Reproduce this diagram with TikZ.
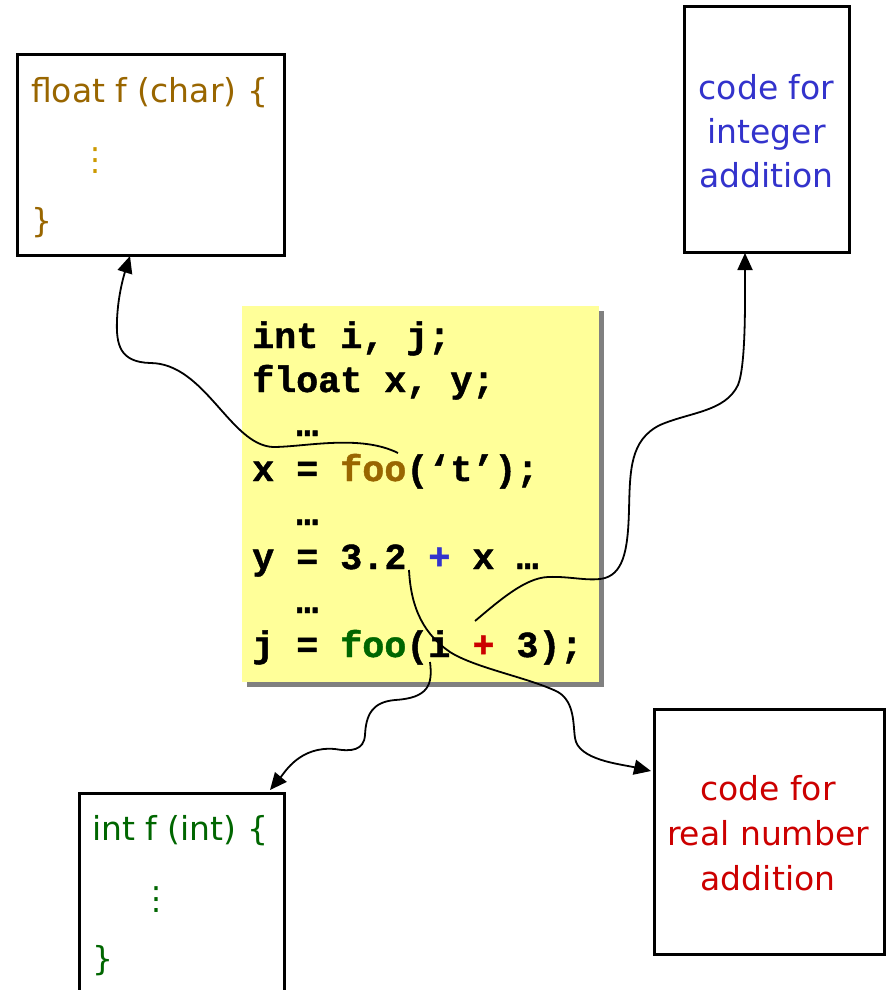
\documentclass[tikz,border=0pt]{standalone}
\usepackage{fontspec}
\usetikzlibrary{arrows.meta}
\newfontfamily\sansfnt{DejaVu Sans}
\newfontfamily\codefnt{Liberation Mono}[BoldFeatures={FakeBold=1.2}]
\definecolor{cbrown}{HTML}{996600}
\definecolor{cgold}{HTML}{CC9900}
\definecolor{cblue}{HTML}{3333CC}
\definecolor{cred}{HTML}{CC0000}
\definecolor{cgreen}{HTML}{006600}
\definecolor{cyellow}{HTML}{FFFF99}
\definecolor{cshadow}{HTML}{808080}
\tikzset{
  boxstyle/.style={draw=black, line width=3pt, fill=white, inner sep=0pt},
  sanstxt/.style={font=\sansfnt\fontsize{33}{44}\selectfont, inner sep=0pt},
  dotstxt/.style={font=\sansfnt\fontsize{32}{32}\selectfont, inner sep=0pt},
  codetxt/.style={font=\codefnt\bfseries\fontsize{36.7}{44}\selectfont, anchor=base west, inner sep=0pt},
  conn/.style={line width=1.8pt, -{Triangle[length=17pt,width=15pt]}},
}
\begin{document}
\begin{tikzpicture}[x=1pt,y=-1pt]
\clip (0,0) rectangle (887,990);
\fill[white] (0,0) rectangle (887,990);
% boxes
\node[boxstyle, minimum width=267pt, minimum height=200pt] (tl) at (150.5,155) {};
\node[boxstyle, minimum width=165pt, minimum height=245pt] (tr) at (766.5,129.5) {};
\node[boxstyle, minimum width=205pt, minimum height=230pt] (bl) at (181.5,908) {};
\node[boxstyle, minimum width=230pt, minimum height=245pt] (br) at (769,831.5) {};
% code box with shadow
\node[fill=cshadow, minimum width=357pt, minimum height=376pt, inner sep=0pt] (shadow) at (425.5,499) {};
\node[fill=cyellow, minimum width=357pt, minimum height=376pt, inner sep=0pt] (code) at (420.5,494) {};
% top-left text
\node[sanstxt, anchor=base west, text=cbrown] (tl1) at (31,102) {float f (char) \{};
\node[dotstxt, text=cgold] (tl2) at (95,161) {⋮};
\node[sanstxt, anchor=base west, text=cbrown] (tl3) at (31,232) {\}};
% top-right text
\node[sanstxt, anchor=base, text=cblue] (tr1) at (766.5,99) {code for};
\node[sanstxt, anchor=base, text=cblue] (tr2) at (766.5,143) {integer};
\node[sanstxt, anchor=base, text=cblue] (tr3) at (766.5,187) {addition};
% bottom-right text
\node[sanstxt, anchor=base, text=cred] (br1) at (768,800) {code for};
\node[sanstxt, anchor=base, text=cred] (br2) at (768,845) {real number};
\node[sanstxt, anchor=base, text=cred] (br3) at (768,890) {addition};
% bottom-left text
\node[sanstxt, anchor=base west, text=cgreen] (bl1) at (92,840) {int f (int) \{};
\node[dotstxt, text=cgreen] (bl2) at (156,900) {⋮};
\node[sanstxt, anchor=base west, text=cgreen] (bl3) at (92,970) {\}};
% code lines
\node[codetxt] (c1) at (252,348) {int i, j;};
\node[codetxt] (c2) at (252,392) {float x, y;};
\node[codetxt] (c3) at (252,436) {~~…};
\node[codetxt] (c4) at (252,481) {x = \textcolor{cbrown}{foo}(‘t’);};
\node[codetxt] (c5) at (252,525) {~~…};
\node[codetxt] (c6) at (252,569) {y = 3.2 \textcolor{cblue}{+} x …};
\node[codetxt] (c7) at (252,613) {~~…};
\node[codetxt] (c8) at (252,657) {j = \textcolor{cgreen}{foo}(i \textcolor{cred}{+} 3);};
% connector end points
\coordinate (s1) at (398,453);
\coordinate (e1) at (130,256);
\coordinate (s2) at (475,621);
\coordinate (e2) at (745,253);
\coordinate (s3) at (409,570);
\coordinate (e3) at (651,771);
\coordinate (s4) at (430,662);
\coordinate (e4) at (270,790);
% connectors
\draw[conn] (s1) .. controls (360,434) and (305,447) .. (273,447)
  .. controls (230,445) and (205,363) .. (150,363)
  .. controls (120,362) and (116,345) .. (117,320)
  .. controls (118,295) and (124,275) .. (e1);
\draw[conn] (s2) .. controls (500,600) and (525,578) .. (548,577)
  .. controls (570,576) and (590,582) .. (605,578)
  .. controls (625,572) and (628,545) .. (629,510)
  .. controls (630,470) and (630,440) .. (660,425)
  .. controls (690,412) and (725,412) .. (738,385)
  .. controls (746,365) and (745,300) .. (e2);
\draw[conn] (s3) .. controls (411,610) and (425,635) .. (450,652)
  .. controls (475,668) and (530,678) .. (558,692)
  .. controls (575,702) and (573,725) .. (575,738)
  .. controls (578,760) and (620,764) .. (e3);
\draw[conn] (s4) .. controls (433,685) and (428,698) .. (395,700)
  .. controls (372,702) and (366,715) .. (365,735)
  .. controls (364,750) and (352,752) .. (335,749)
  .. controls (300,746) and (285,772) .. (e4);
\end{tikzpicture}
\end{document}
